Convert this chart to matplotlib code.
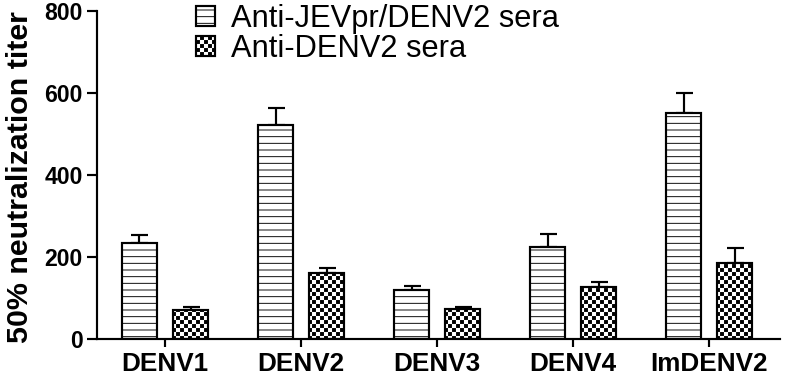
import numpy as np
import matplotlib
matplotlib.use("Agg")
import matplotlib.pyplot as plt
import matplotlib.hatch as mhatch
from matplotlib.path import Path

# ---------------- data ----------------
categories = ["DENV1", "DENV2", "DENV3", "DENV4", "ImDENV2"]
series_names = ["Anti-JEVpr/DENV2 sera", "Anti-DENV2 sera"]
jev_vals = [233, 521, 119, 223, 551]
jev_err = [20, 41, 9, 34, 49]
denv_vals = [71, 160, 72, 127, 186]
denv_err = [6, 13, 5, 13, 35]
yticks = [0, 200, 400, 600, 800]

# ---------------- custom checker hatch (replaces '*') ----------------
class CheckerHatch(mhatch.HatchPatternBase):
    def __init__(self, hatch, density):
        self.n = 30 if '*' in hatch else 0
        self.num_vertices = (self.n * self.n // 2) * 5 if self.n else 0

    def set_vertices_and_codes(self, vertices, codes):
        n = self.n
        cell = 1.0 / n
        s = cell * 0.74
        off = (cell - s) / 2
        k = 0
        for i in range(n):
            for j in range(n):
                if (i + j) % 2 == 0:
                    x0 = j * cell + off
                    y0 = i * cell + off
                    vertices[k:k + 5] = [(x0, y0), (x0 + s, y0), (x0 + s, y0 + s),
                                         (x0, y0 + s), (x0, y0)]
                    codes[k:k + 5] = [Path.MOVETO, Path.LINETO, Path.LINETO,
                                      Path.LINETO, Path.CLOSEPOLY]
                    k += 5

mhatch._hatch_types[:] = [CheckerHatch if t is mhatch.Stars else t
                          for t in mhatch._hatch_types]

plt.rcParams['font.family'] = ['Liberation Sans', 'DejaVu Sans']
plt.rcParams['hatch.linewidth'] = 0.55

DPI = 120
fig = plt.figure(figsize=(788 / DPI, 377 / DPI), dpi=DPI)
ax = fig.add_axes([97 / 788, 1 - 339 / 377, (780 - 97) / 788, (339 - 10.7) / 377])

x = np.arange(len(categories))
w = 0.257
off = 0.188
lw = 1.3

b1 = ax.bar(x - off, jev_vals, w, color='white', edgecolor='black', linewidth=lw,
            hatch='---', label=series_names[0], zorder=2)
b2 = ax.bar(x + off, denv_vals, w, color='white', edgecolor='black', linewidth=lw,
            hatch='*', label=series_names[1], zorder=2)

ax.errorbar(x - off, jev_vals, yerr=[np.zeros(len(x)), jev_err], fmt='none',
            ecolor='black', elinewidth=lw, capsize=5.1, capthick=lw, zorder=1)
ax.errorbar(x + off, denv_vals, yerr=[np.zeros(len(x)), denv_err], fmt='none',
            ecolor='black', elinewidth=lw, capsize=5.1, capthick=lw, zorder=1)

ax.set_xlim(-0.5, 4.52)
ax.set_ylim(0, 800)
ax.set_yticks(yticks)
ax.set_xticks(x)
ax.set_xticklabels(categories, fontsize=15.7, fontweight='bold')
ax.tick_params(axis='y', labelsize=13.8, width=lw, length=6, pad=2.5)
ax.tick_params(axis='x', width=lw, length=5, pad=3)
for lab in ax.get_yticklabels():
    lab.set_fontweight('bold')

for s in ['top', 'right']:
    ax.spines[s].set_visible(False)
for s in ['left', 'bottom']:
    ax.spines[s].set_linewidth(lw)

ax.set_ylabel("50% neutralization titer", fontsize=18.2, fontweight='bold')
ax.yaxis.set_label_coords(-0.092, 0.493)

leg = fig.legend(handles=[b1, b2], labels=series_names, loc='upper left',
                 bbox_to_anchor=(196 / 788, 1 - 4 / 377), frameon=False,
                 fontsize=18.5, handlelength=0.62, handleheight=0.62,
                 handletextpad=0.52, labelspacing=0.0, borderpad=0,
                 borderaxespad=0)

fig.savefig("out.png", dpi=DPI)
